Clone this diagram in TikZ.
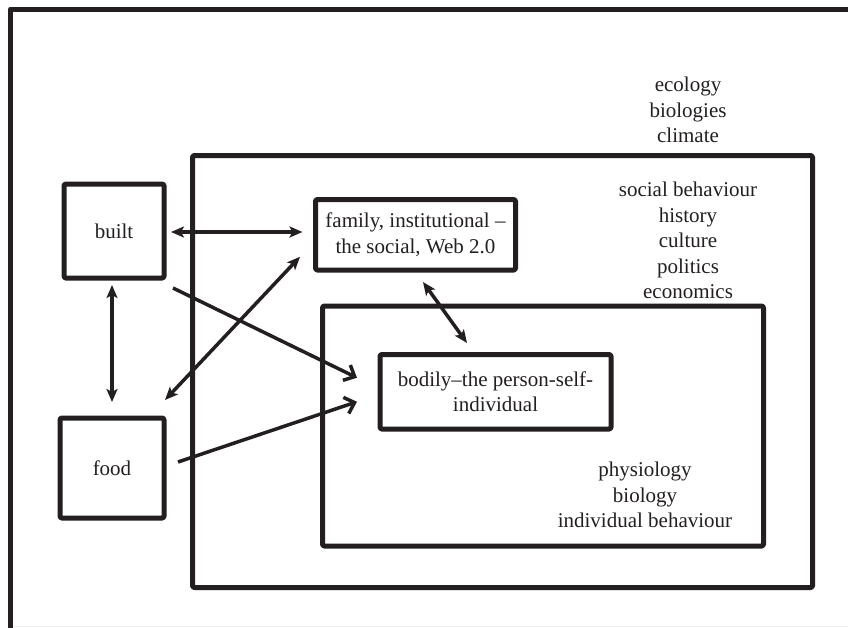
\documentclass[tikz,border=0pt]{standalone}
\usepackage{fontspec}
\setmainfont{Liberation Serif}
\usetikzlibrary{arrows.meta}
\definecolor{ink}{HTML}{231F20}
\tikzset{
  frame/.style={draw=ink, line width=5pt, rounded corners=1.5pt, inner sep=0pt, outer sep=0pt, line join=round},
  label/.style={text=ink, align=center, inner sep=0pt, font=\fontsize{21}{25.5}\selectfont},
  boxtext/.style={frame, text=ink, align=center, font=\fontsize{21}{25.5}\selectfont},
  conn/.style={draw=ink, line width=3.5pt, {Stealth[length=13pt,width=11pt,inset=3pt]}-{Stealth[length=13pt,width=11pt,inset=3pt]}},
  barb/.style={draw=ink, line width=3.5pt, -{Straight Barb[length=9pt,width=17pt,line width=3.5pt]}},
}
\begin{document}
\begin{tikzpicture}[x=1pt,y=-1pt]
\useasboundingbox (0,0) rectangle (848,627);
\clip (0,0) rectangle (848,627);
\fill[white] (0,0) rectangle (848,627);
% outer frame (cut off at right and bottom)
\draw[ink, line width=5pt, line join=round] (10.5,700) -- (10.5,9) -- (900,9);
\draw[gray!12, line width=1pt] (13,626) -- (848,626);
% nested boxes
\node[frame, minimum width=620pt, minimum height=432pt] (big) at (502.5,371.5) {};
\node[frame, minimum width=441pt, minimum height=240pt] (inner) at (543,426) {};
% labels
\node[label, anchor=north] (eco) at (688,77) {ecology\\biologies\\climate};
\node[label, anchor=north] (soc) at (688,182) {social behaviour\\history\\culture\\politics\\economics};
\node[label, anchor=north] (phys) at (645,462) {physiology\\biology\\individual behaviour};
% boxes
\node[boxtext, minimum width=100pt, minimum height=94pt] (built) at (114,231) {built};
\node[boxtext, minimum width=104pt, minimum height=100pt] (food) at (112,468) {food};
\node[boxtext, minimum width=200pt, minimum height=70.5pt] (family) at (415.5,234.75) {family, institutional –\\the social, Web 2.0};
\node[boxtext, minimum width=231pt, minimum height=74.5pt] (bodily) at (495.5,391.75) {bodily–the person-self-\\individual};
% connectors
\draw[conn] ([shift={(7,1)}]built.east) -- ([shift={(-13,1)}]family.west |- built.east);
\draw[conn] ([shift={(0,7)}]food.north |- built.south) -- ([shift={(0,-16)}]food.north);
\draw[barb] ([shift={(9,10)}]built.south east) -- ([shift={(-23,-14)}]bodily.west);
\draw[barb] ([shift={(14,-6)}]food.east) -- ([shift={(-23,10)}]bodily.west);
\draw[conn] ([shift={(-15.5,22)}]family.west) -- ([shift={(1,-18)}]food.north east);
\draw[conn] ([shift={(7.5,12)}]family.south) -- ([shift={(-28.5,-11.5)}]bodily.north);
\end{tikzpicture}
\end{document}
